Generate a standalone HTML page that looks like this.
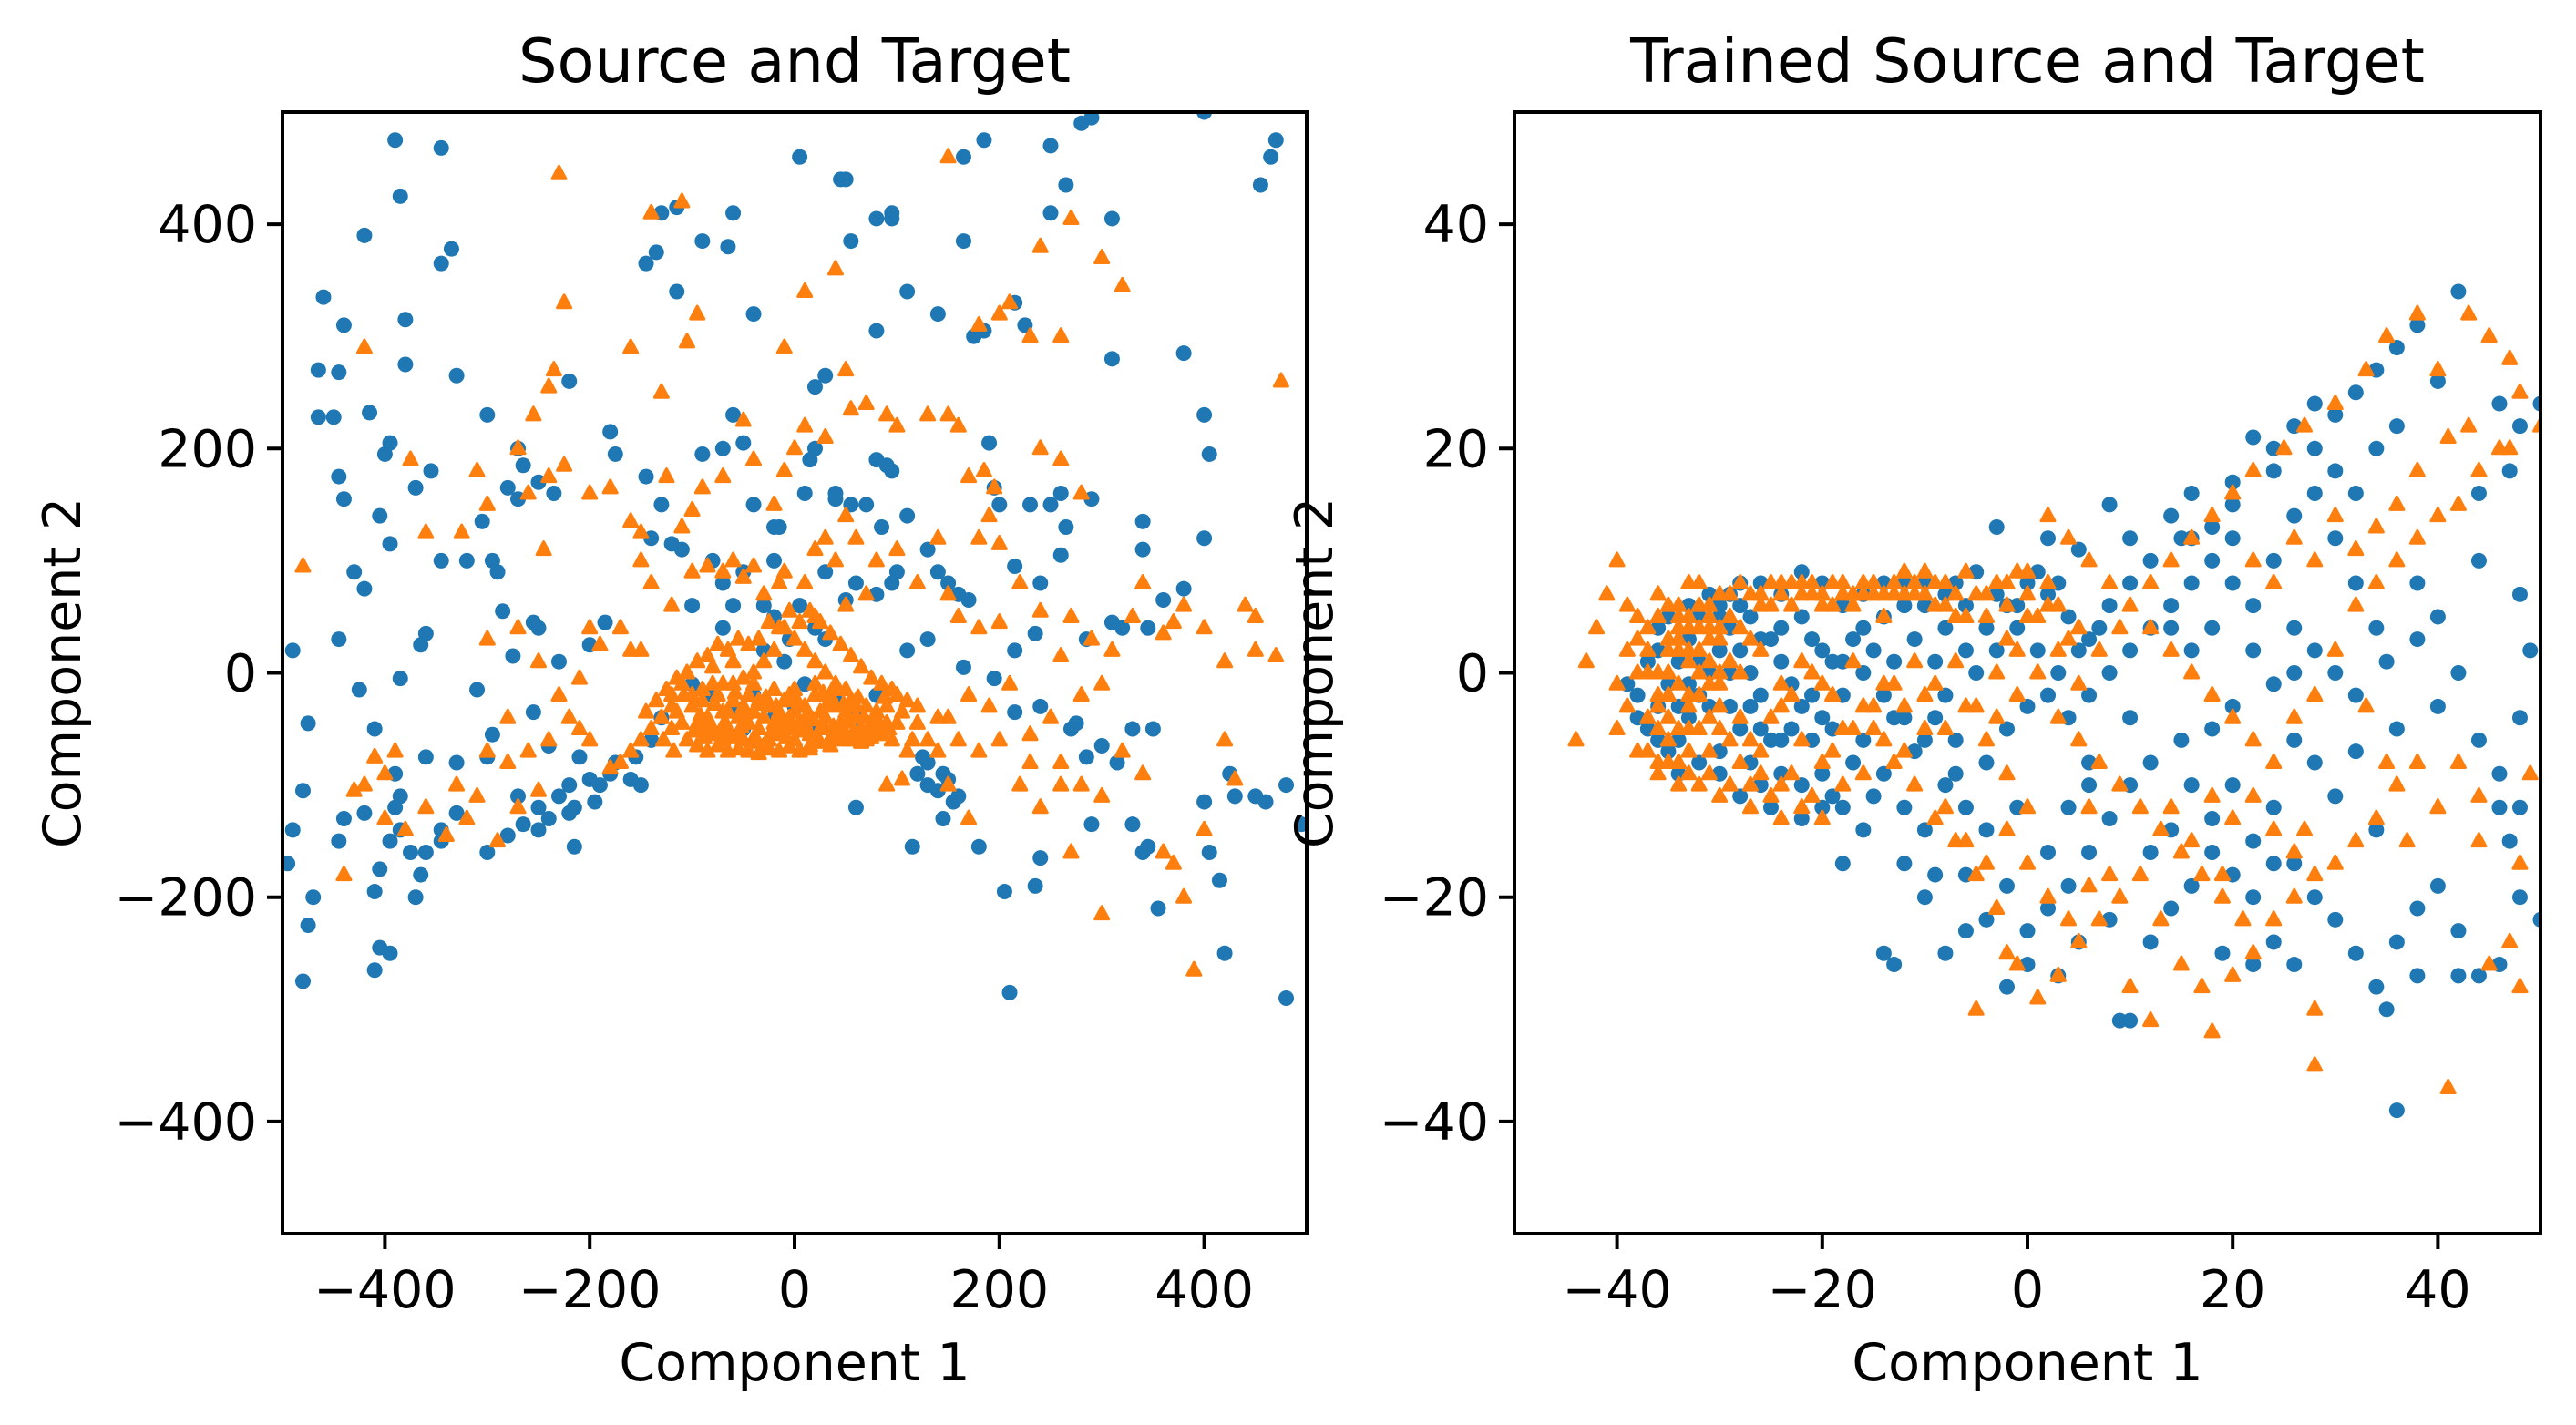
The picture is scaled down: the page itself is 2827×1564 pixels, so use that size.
<!DOCTYPE html>
<html><head><meta charset="utf-8"><style>
html,body{margin:0;padding:0;background:#fff}
svg{display:block}
text{font-family:"DejaVu Sans","Liberation Sans",sans-serif;fill:#000}
</style></head><body>
<svg id="fig" width="2827" height="1564" viewBox="0 0 2827 1564" xmlns="http://www.w3.org/2000/svg"></svg>
<script>
// ---------- data ----------
const leftSourceBlue = [[-390,475],[-345,468],[-385,425],[-420,390],[-335,378],[-345,365],[-460,335],[-440,310],[-380,315],[-465,270],[-445,268],[-380,275],[-330,265],[-415,232],[-465,228],[-450,228],[-395,205],[-400,195],[-355,180],[-445,175],[-370,165],[-440,155],[-405,140],[-395,115],[-345,100],[-305,135],[-300,230],[-270,200],[-265,185],[-280,165],[-270,155],[-250,170],[-235,160],[-220,260],[-180,215],[-175,195],[-145,175],[-130,150],[-120,115],[-185,45],[-200,25],[-230,10],[-295,100],[-290,90],[-320,100],[-285,55],[-360,35],[-365,25],[-420,75],[-430,90],[-445,30],[-490,20],[-475,-45],[-425,-15],[-385,-5],[-310,-15],[-295,-55],[-255,45],[-250,40],[-275,15],[-255,-35],[-240,-65],[-300,-75],[-330,-80],[-360,-75],[-410,-50],[-390,-90],[-385,-110],[-390,-120],[-385,-140],[-395,-150],[-375,-160],[-360,-160],[-345,-150],[-345,-140],[-330,-125],[-370,-200],[-365,-180],[-420,-125],[-440,-130],[-445,-150],[-470,-200],[-475,-225],[-480,-275],[-490,-140],[-495,-170],[-480,-105],[-410,-195],[-405,-175],[-395,-250],[-405,-245],[-410,-265],[-300,-160],[-280,-145],[-265,-135],[-270,-110],[-250,-120],[-230,-110],[-220,-100],[-200,-95],[-190,-100],[-180,-90],[-175,-80],[-160,-95],[-155,-75],[-215,-155],[-250,-140],[-240,-130],[-215,-120],[-220,-125],[-210,-75],[-195,-115],[-150,-100],[-140,-60],[-130,-40],[-100,60],[-70,80],[-50,90],[-20,100],[-30,60],[-60,60],[-80,100],[-110,110],[-140,120],[-60,230],[-70,200],[-90,195],[-50,205],[-40,150],[-15,130],[10,160],[15,190],[20,200],[40,160],[55,150],[70,150],[80,190],[90,185],[95,180],[110,140],[85,130],[130,110],[140,90],[150,80],[160,70],[170,65],[100,90],[95,80],[80,70],[130,30],[110,20],[60,80],[50,65],[30,90],[20,40],[-20,50],[-5,30],[5,60],[-20,130],[-40,320],[-65,380],[-60,410],[-90,385],[-130,410],[-115,415],[-135,375],[-145,365],[-115,340],[5,460],[45,440],[50,440],[55,385],[30,265],[20,255],[40,155],[80,305],[95,405],[95,410],[80,405],[110,340],[140,320],[165,385],[175,300],[185,305],[185,475],[165,460],[215,330],[225,310],[250,470],[250,410],[265,435],[280,490],[290,495],[310,405],[310,280],[340,135],[380,285],[400,230],[405,195],[400,120],[470,475],[465,460],[455,435],[400,500],[190,205],[195,165],[200,150],[250,150],[260,160],[230,150],[265,130],[290,155],[260,105],[215,95],[240,80],[285,30],[310,45],[320,40],[340,110],[360,65],[380,75],[345,40],[235,35],[215,20],[195,-5],[165,5],[215,-35],[240,-30],[270,-50],[275,-45],[285,-75],[300,-65],[315,-80],[330,-135],[340,-160],[345,-155],[355,-210],[290,-135],[240,-165],[235,-190],[205,-195],[210,-285],[180,-155],[150,-95],[145,-90],[130,-100],[130,-80],[140,-105],[120,-90],[125,-75],[160,-110],[155,-115],[145,-130],[115,-155],[60,-120],[330,-50],[350,-50],[400,-115],[405,-160],[415,-185],[425,-90],[430,-110],[450,-110],[460,-115],[420,-250],[480,-290],[495,-135],[480,-100],
[-60,-30],[-40,-20],[-20,-40],[0,-30],[20,-50],[-80,-20],[40,-25],[-50,-50],[10,-10],[-30,20],[-10,10],[60,-40],[80,-20],[-100,-10],[30,30],[-70,40]];
const leftTargetOrange = [[-230,445],[-110,420],[-140,410],[-95,320],[-105,295],[-160,290],[-420,290],[-480,95],[-225,330],[-375,190],[-360,125],[-325,125],[-310,180],[-300,150],[-270,200],[-255,230],[-240,255],[-235,270],[-260,160],[-240,175],[-225,185],[-245,110],[-200,160],[-180,165],[-160,135],[-150,125],[-130,250],[-125,175],[-110,130],[-100,145],[-90,165],[-70,175],[-50,225],[-40,190],[-20,150],[-10,180],[0,200],[10,220],[30,210],[50,270],[55,235],[70,240],[90,230],[100,220],[130,230],[150,230],[160,220],[170,175],[185,180],[190,140],[180,120],[200,115],[195,165],[240,200],[260,190],[280,160],[-150,100],[-140,80],[-120,60],[-100,90],[-85,95],[-70,90],[-60,100],[-50,85],[-40,95],[-30,70],[-10,90],[10,80],[20,110],[30,120],[40,100],[50,140],[60,120],[80,100],[100,110],[120,80],[140,120],[150,70],[160,50],[180,40],[200,45],[220,80],[240,55],[270,50],[290,30],[310,20],[330,50],[340,80],[360,35],[370,45],[380,60],[400,40],[420,10],[440,60],[450,50],[470,15],[475,260],[450,20],[300,-10],[280,-20],[250,-40],[230,-55],[200,-60],[180,-70],[160,-60],[140,-40],[120,-30],[100,-20],[90,-45],[80,-55],[70,-60],[60,-30],[50,-15],[40,-10],[30,0],[20,10],[10,20],[0,30],[-10,40],[-20,20],[-30,10],[-40,0],[-50,-5],[-60,10],[-70,-10],[-80,5],[-90,-15],[-100,-20],[-110,-10],[-120,-30],[-130,-40],[-140,-50],[-150,-60],[-160,-70],[-170,-80],[-180,-85],[-200,-60],[-210,-50],[-220,-40],[-240,-60],[-260,-70],[-280,-80],[-300,-70],[-310,-110],[-320,-130],[-340,-145],[-360,-120],[-380,-140],[-400,-90],[-410,-75],[-420,-100],[-430,-105],[-400,-130],[-440,-180],[-390,-70],[-330,-100],[-290,-150],[-270,-120],[-250,-105],[-230,-20],[-210,-5],[-190,25],[-170,40],[-160,20],[-200,40],[-250,10],[-270,40],[-280,-40],[-300,30],[-150,20],[-120,-20],[150,-40],[170,-20],[190,-30],[210,-10],[260,-80],[280,-100],[300,-110],[320,-70],[340,-90],[360,-160],[370,-170],[380,-200],[390,-265],[300,-215],[420,-60],[430,-95],[400,-140],[260,-100],[230,-80],[170,-130],[150,-100],[105,-95],[90,-100],[220,-100],[240,-120],[270,-160],[140,-70],[130,-60],[260,15],[320,345],[300,370],[270,405],[260,300],[240,380],[210,330],[200,320],[230,300],[180,310],[150,460],[40,360],[10,340],[-10,290],[-15,80],[20,50],[50,60],[70,70],
[-100,-30],[-95,-45],[-90,-25],[-85,-40],[-80,-55],[-75,-20],[-70,-35],[-65,-50],[-60,-25],[-55,-40],[-50,-60],[-45,-20],[-40,-35],[-35,-50],[-30,-65],[-25,-30],[-20,-45],[-15,-55],[-10,-25],[-5,-40],[0,-60],[5,-30],[10,-45],[15,-55],[20,-20],[25,-35],[30,-50],[35,-65],[40,-30],[45,-45],[50,-55],[55,-25],[60,-40],[65,-50],[70,-30],[75,-45],[80,-35],[-90,-50],[-70,-60],[-50,-30],[-30,-40],[-10,-50],[10,-30],[30,-40],[50,-35],[-60,-10],[-40,-10],[-20,-15],[0,-15],[20,-10],[-80,-10],[40,-15],[-35,-25],[-15,-35],[5,-45],[25,-50],[45,-60],[-55,-55],[-25,-60],[15,-65],[60,-60],[-110,-45],[90,-30],[-45,-45],[-5,-20],[35,-20],[-65,-35],[0,-35],
[-120,-50],[-115,-35],[-105,-60],[-95,-65],[-85,-70],[-75,-65],[-65,-70],[-55,-68],[-45,-70],[-35,-72],[-25,-68],[-15,-70],[-5,-66],[5,-70],[15,-68],[25,-62],[35,-58],[45,-52],[55,-60],[65,-62],[75,-58],[85,-55],[95,-60],[100,-45],[105,-35],[110,-25],[95,-15],[85,-10],[75,-5],[65,5],[55,15],[45,25],[35,35],[25,45],[15,55],[5,45],[-5,55],[-15,40],[-25,45],[-35,30],[-45,25],[-55,30],[-65,20],[-75,25],[-85,15],[-95,10],[-105,0],[-115,-5],[-125,-15],[-135,-25],[-145,-35],[-92,-38],[-78,-28],[-68,-44],[-58,-18],[-48,-36],[-38,-58],[-28,-22],[-18,-30],[-8,-58],[2,-24],[12,-38],[22,-58],[32,-28],[42,-52],[52,-44],[62,-22],[72,-50],[82,-44],[-88,-58],[-72,-52],[-52,-48],[-32,-28],[-12,-42],[8,-52],[28,-18],[48,-28],[68,-40],[-42,-62],[-22,-52],[18,-42],[38,-48],[58,-52],[-62,-58],[-2,-48],[-82,-46],[92,-50],[88,-22],[-98,-52],[-108,-20],[-128,-60],[-118,-70],[115,-60],[120,-45],[110,-70]];
const rightSourceBlue = [[-37,-5],[-36,-3],[-35,-1],[-34,1],[-33,3],[-32,5],[-31,7],[-30,6],[-29,4],[-28,2],[-27,0],[-26,-2],[-36,2],[-35,5],[-34,-6],[-33,-4],[-32,-2],[-31,0],[-30,2],[-29,-3],[-28,-5],[-27,-8],[-26,-10],[-25,-12],[-30,-7],[-32,-8],[-34,-9],[-38,-4],[-39,-1],[-37,1],[-36,4],[-33,6],[-29,7],[-27,5],[-25,3],[-24,1],[-23,-1],[-22,-3],[-21,-6],[-20,-9],[-19,-11],[-18,-12],[-24,-6],[-22,-10],[-20,-4],[-18,-2],[-16,0],[-14,-2],[-12,-4],[-10,-6],[-16,-6],[-14,-9],[-12,-12],[-10,-14],[-8,-10],[-6,-12],[-4,-8],[-2,-5],[0,-3],[-8,-2],[-6,2],[-4,4],[-2,6],[0,8],[2,7],[4,5],[6,3],[-20,8],[-18,6],[-16,7],[-14,5],[-12,8],[-10,6],[-8,4],[-24,7],[-22,9],[-26,8],[-28,6],[-3,13],[2,12],[5,11],[8,15],[10,12],[14,14],[16,16],[18,13],[20,17],[22,21],[24,20],[26,22],[28,24],[30,23],[32,25],[34,27],[36,29],[38,31],[42,34],[46,24],[48,22],[50,24],[28,20],[30,18],[32,16],[24,18],[20,15],[18,10],[16,8],[14,6],[12,4],[10,2],[8,0],[6,-2],[4,-4],[2,-2],[8,6],[12,10],[15,12],[20,8],[22,6],[26,4],[28,2],[30,0],[32,-2],[35,1],[38,3],[40,5],[24,-1],[20,-3],[18,-5],[15,-6],[12,-8],[10,-10],[8,-13],[6,-16],[4,-19],[2,-21],[0,-23],[-2,-19],[-4,-22],[-6,-18],[-10,-20],[-12,-17],[-14,-25],[-13,-26],[-8,-25],[-2,-28],[0,-26],[3,-27],[5,-24],[8,-22],[9,-31],[10,-31],[12,-24],[14,-21],[18,-16],[20,-18],[18,-13],[20,-10],[22,-20],[24,-17],[26,-17],[28,-20],[30,-22],[32,-25],[34,-28],[35,-30],[36,-24],[38,-21],[40,-19],[42,-23],[44,-27],[46,-26],[48,-20],[50,-22],[47,-15],[48,-12],[46,-9],[44,-6],[34,-14],[30,-11],[28,-8],[26,-6],[24,-12],[22,-15],[19,-25],[22,-26],[36,-39],[38,-27],[42,-27],[46,-12],[48,-4],[49,2],[48,7],[42,0],[40,-3],[36,-5],[32,-7],
[-35,-7],[-33,-1],[-31,-3],[-29,0],[-27,-3],[-25,-6],[-23,-5],[-21,-2],[-19,-5],[-17,-8],[-15,-11],[-13,-4],[-11,-7],[-9,-4],[-7,-6],[-5,0],[-3,2],[-1,4],[1,2],[3,0],[5,2],[7,4],[-21,3],[-19,1],[-17,3],[-15,2],[-13,1],[-11,3],[-9,1],[-7,8],[-5,9],[-3,7],[-1,6],[1,9],[3,8],[-30,-9],[-28,-11],[-26,-5],[-24,-9],[-22,-13],[-20,-12],[-38,-2],[-36,-6],[-34,-3],[-32,1],[-30,5],[-28,8],[-26,3],[-24,4],[-22,5],[-20,2],[-18,1],[-16,4],[-14,8],[-12,6],[-10,8],[-8,7],[-6,6],[10,8],[14,4],[16,2],[10,-4],[6,-8],[4,-12],[2,-16],[-1,-12],[-4,-14],[-7,-9],[16,-10],[14,-14],[12,-16],[26,0],[22,2],[18,4],[16,12],[20,12],[24,10],[26,14],[28,16],[34,20],[36,22],[40,26],[30,12],[32,8],[34,4],[38,8],[44,10],[44,16],[47,18],[24,-24],[26,-26],[16,-19],[6,-10],[-16,-14],[-18,-17],[-6,-23],[-9,-18]];
const rightTargetOrange = [[-44,-6],[-43,1],[-42,4],[-41,7],[-40,10],[-39,6],[-38,3],[-37,0],[-36,-3],[-35,-6],[-34,-8],[-33,-5],[-32,-2],[-31,1],[-30,4],[-29,7],[-28,8],[-27,7],[-26,6],[-25,8],[-24,7],[-23,6],[-22,8],[-21,7],[-20,6],[-19,8],[-18,7],[-17,6],[-16,8],[-15,7],[-14,5],[-13,8],[-12,9],[-11,7],[-10,9],[-9,6],[-8,8],[-7,5],[-6,9],[-5,7],[-4,5],[-3,8],[-2,6],[-1,9],[0,7],[1,5],[2,8],[3,6],[4,3],[-36,5],[-35,3],[-34,6],[-33,8],[-32,4],[-31,6],[-35,0],[-37,-4],[-38,-7],[-36,-8],[-33,-9],[-31,-7],[-29,-10],[-27,-12],[-25,-11],[-23,-9],[-21,-11],[-19,-7],[-17,-5],[-15,-3],[-13,-8],[-11,-10],[-9,-13],[-7,-15],[-5,-18],[-3,-21],[-2,-25],[-1,-26],[1,-29],[3,-27],[5,-24],[7,-22],[9,-20],[11,-18],[13,-22],[15,-26],[17,-28],[18,-32],[20,-27],[22,-25],[24,-22],[26,-20],[28,-30],[28,-35],[30,-17],[32,-15],[34,-13],[36,-10],[38,-8],[40,-12],[42,-8],[44,-15],[45,-26],[47,-24],[48,-28],[41,-37],[12,-31],[10,-28],[-5,-30],[-27,-6],[-25,-4],[-23,-2],[-21,0],[-19,-2],[-17,1],[-15,-5],[-13,-1],[-11,1],[-9,-1],[-7,1],[-5,-3],[-3,0],[-1,-2],[1,0],[3,-4],[5,-6],[7,-8],[9,-10],[11,-12],[13,-14],[15,-16],[17,-18],[19,-20],[21,-22],[2,14],[4,12],[6,10],[8,8],[10,6],[12,4],[14,2],[16,0],[18,-2],[20,-4],[22,-6],[24,-8],[26,-4],[28,-2],[30,2],[32,6],[34,8],[36,10],[38,12],[40,14],[42,15],[44,18],[46,20],[48,25],[50,22],[47,28],[45,30],[43,32],[40,27],[38,32],[35,30],[33,27],[30,24],[27,22],[25,20],[22,18],[20,16],[18,14],[16,12],[14,10],[12,8],[22,10],[24,8],[26,12],[28,10],[30,14],[32,11],[34,13],[36,15],[38,18],[41,21],[43,22],[47,20],[49,-9],[48,-17],[44,-11],[37,-15],[33,-3],[35,-8],[-30,-11],[-26,-9],[-24,-13],
[-36,-2],[-35,-4],[-34,-1],[-34,3],[-33,1],[-33,-2],[-32,0],[-32,2],[-31,3],[-31,-4],[-30,-1],[-30,-5],[-35,2],[-36,0],[-37,2],[-33,4],[-32,6],[-34,4],[-31,5],[-30,0],
[-36,-5],[-35,-8],[-34,-5],[-33,-7],[-32,-5],[-31,-9],[-30,-3],[-29,-6],[-28,-8],[-37,-7],[-36,-9],[-34,-10],[-32,-10],[-35,-2],[-33,2],[-31,-1],[-29,1],[-28,4],[-27,3],[-29,5],[-30,7],[-32,8],[-34,5],[-33,5],[-31,4],[-30,3],[-34,2],[-33,-3],[-35,6],[-36,7],[-39,2],[-40,-1],[-39,-3],[-40,-5],[-38,0],[-38,5],[-37,4],[-26,7],[-24,8],[-22,7],[-20,7],[-18,8],[-16,7],[-14,7],[-12,7],[-10,7],[-8,6],[-25,6],[-23,8],[-21,8],[-19,6],[-17,7],[-15,8],[-13,7],[-11,8],[-9,8],[-7,7],[-6,5],[-4,7],[-2,8],[0,9],[2,6],[0,5],[-2,3],[-27,-10],[-28,-4],[-26,-7],[-24,-3],[-22,-6],[-20,-8],[-18,-10],[-16,-9],[-14,-6],[-12,-7],[-24,-10],[-22,-12],[-20,-13],[-18,-5],[-16,-3],[-14,-1],[-12,-3],[-10,-5],[-10,-2],[-8,-5],[-6,-3],[-4,-6],[-2,-9],[0,-12],[-8,-12],[-6,-15],[-4,-17],[-2,-14],[0,-17],[2,-20],[4,-22],[6,-19],[8,-18],[6,-12],[14,-12],[16,-15],[19,-18],[20,-13],[22,-11],[24,-14],[26,-16],[28,-18],[27,-14],[18,-11],[-3,-4],[-1,2],[3,2],[5,4],[7,2],[9,4],[5,-1],[-28,0],[-26,2],[-24,-1],[-22,1],[-20,-1]];
const leftTicksX = [-400,-200,0,200,400];
const leftTicksY = [400,200,0,-200,-400];
const rightTicksX = [-40,-20,0,20,40];
const rightTicksY = [40,20,0,-20,-40];

// ---------- drawing ----------
const NS = 'http://www.w3.org/2000/svg';
const svg = document.getElementById('fig');
function mk(tag, attrs, parent){const e=document.createElementNS(NS,tag);for(const k in attrs)e.setAttribute(k,attrs[k]);(parent||svg).appendChild(e);return e;}
const T=123,B=1354;
function panel(id,L,R,lim,blue,orange,tx,ty,title){
  const g=mk('g',{});
  
  
  const sx=v=>L+(v+lim)/(2*lim)*(R-L);
  const sy=v=>B-(v+lim)/(2*lim)*(B-T);
  const cid='clip-'+id;
  const cp=mk('clipPath',{id:cid},g); mk('rect',{x:L,y:T,width:R-L,height:B-T},cp);
  const pts=mk('g',{'clip-path':'url(#'+cid+')'},g);
  blue.forEach(p=>{const c=mk('circle',{cx:sx(p[0]),cy:sy(p[1]),r:8.5,fill:'#1f77b4'},pts);
    
    });
  orange.forEach(p=>{const x=sx(p[0]),y=sy(p[1]);
    const t=mk('polygon',{points:`${x},${y-8.5} ${x-7.5},${y+5.5} ${x+7.5},${y+5.5}`,fill:'#ff7f0e',stroke:'#ff7f0e','stroke-width':3,'stroke-linejoin':'round'},pts);
    
    });
  const fr=mk('rect',{x:L,y:T,width:R-L,height:B-T,fill:'none',stroke:'#000','stroke-width':4},g);
  
  
  tx.forEach(v=>{const x=sx(v);mk('line',{x1:x,x2:x,y1:B,y2:B+17,stroke:'#000','stroke-width':4},g);
    const t=mk('text',{x:x,y:1435,'text-anchor':'middle','font-size':57},g);t.textContent=(v<0?'\u2212'+(-v):v);
    
    });
  ty.forEach(v=>{const y=sy(v);mk('line',{x1:L,x2:L-17,y1:y,y2:y,stroke:'#000','stroke-width':4},g);
    const t=mk('text',{x:L-28,y:y+20,'text-anchor':'end','font-size':57},g);t.textContent=(v<0?'\u2212'+(-v):v);
    
    });
  const ti=mk('text',{x:(L+R)/2,y:90,'text-anchor':'middle','font-size':67},g);ti.textContent=title;
  
  
  const xl=mk('text',{x:(L+R)/2,y:1515,'text-anchor':'middle','font-size':57},g);xl.textContent='Component 1';
  
  
  const yx=L-(id==='left'?222:200);
  const yl=mk('text',{x:yx,y:(T+B)/2,'text-anchor':'middle','font-size':57,transform:`rotate(-90 ${yx} ${(T+B)/2})`},g);yl.textContent='Component 2';
  
  
}
panel('left',310,1434,500,leftSourceBlue,leftTargetOrange,leftTicksX,leftTicksY,'Source and Target');
panel('right',1662,2788,50,rightSourceBlue,rightTargetOrange,rightTicksX,rightTicksY,'Trained Source and Target');
</script>
</body></html>
